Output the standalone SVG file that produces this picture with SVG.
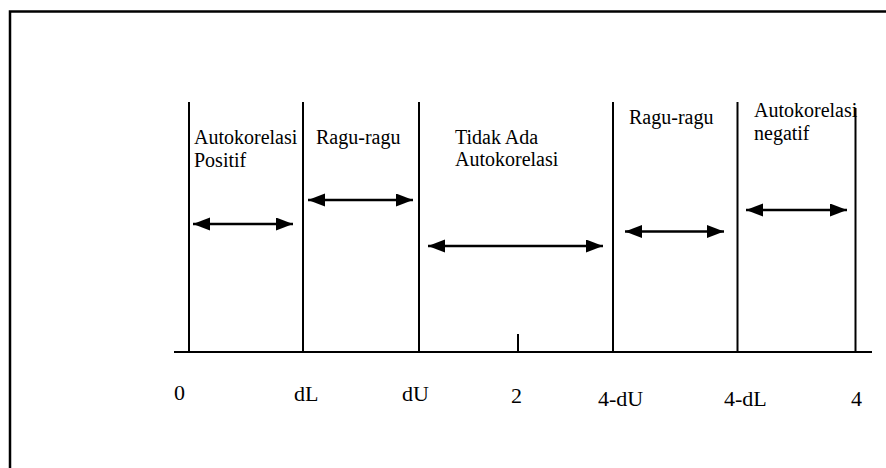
<svg xmlns="http://www.w3.org/2000/svg" width="886" height="468" viewBox="0 0 886 468">
<style>
.ln{stroke:#000;stroke-width:2;fill:none}
.arr{stroke:#000;stroke-width:2.7;fill:none;marker-start:url(#ah);marker-end:url(#ah)}
.lbl{font-family:"Liberation Serif","Times New Roman",serif;font-size:20px;fill:#000}
.ax{font-family:"Liberation Serif","Times New Roman",serif;font-size:22px;fill:#000}
</style>
<defs>
<marker id="ah" markerUnits="userSpaceOnUse" markerWidth="18" markerHeight="14" refX="17" refY="6.5" orient="auto-start-reverse">
<path d="M0,0 L17,6.5 L0,13 Z" fill="#000"/>
</marker>
</defs>
<rect x="10" y="11.5" width="900" height="500" fill="none" stroke="#000" stroke-width="2.5"/>
<g id="axis">
<line class="ln" x1="174" y1="352" x2="872" y2="352"/>
<line class="ln" x1="518" y1="334" x2="518" y2="352"/>
</g>
<g id="boundaries">
<line class="ln" x1="189" y1="102" x2="189" y2="353"/>
<line class="ln" x1="303" y1="102" x2="303" y2="353"/>
<line class="ln" x1="419" y1="102" x2="419" y2="353"/>
<line class="ln" x1="613" y1="102" x2="613" y2="353"/>
<line class="ln" x1="737.5" y1="102" x2="737.5" y2="353"/>
<line class="ln" x1="855.5" y1="108" x2="855.5" y2="353"/>
</g>
<g id="connectors">
<line class="arr" x1="193" y1="224" x2="293" y2="224"/>
<line class="arr" x1="308" y1="200" x2="413" y2="200"/>
<line class="arr" x1="428" y1="246" x2="603" y2="246"/>
<line class="arr" x1="625" y1="231.5" x2="724" y2="231.5"/>
<line class="arr" x1="746" y1="210" x2="847" y2="210"/>
</g>
<g id="zone-positif">
<text class="lbl" x="194" y="144">Autokorelasi</text>
<text class="lbl" x="194" y="167">Positif</text>
</g>
<g id="zone-ragu1">
<text class="lbl" x="316" y="144">Ragu-ragu</text>
</g>
<g id="zone-tidak">
<text class="lbl" x="455" y="144">Tidak Ada</text>
<text class="lbl" x="455" y="166">Autokorelasi</text>
</g>
<g id="zone-ragu2">
<text class="lbl" x="629" y="124">Ragu-ragu</text>
</g>
<g id="zone-negatif">
<text class="lbl" x="754" y="117">Autokorelasi</text>
<text class="lbl" x="754" y="140">negatif</text>
</g>
<g id="axis-labels">
<text class="ax" x="174" y="400">0</text>
<text class="ax" x="294" y="401">dL</text>
<text class="ax" x="402" y="401">dU</text>
<text class="ax" x="511" y="403">2</text>
<text class="ax" x="598" y="406">4-dU</text>
<text class="ax" x="724" y="406">4-dL</text>
<text class="ax" x="851" y="406">4</text>
</g>
</svg>
